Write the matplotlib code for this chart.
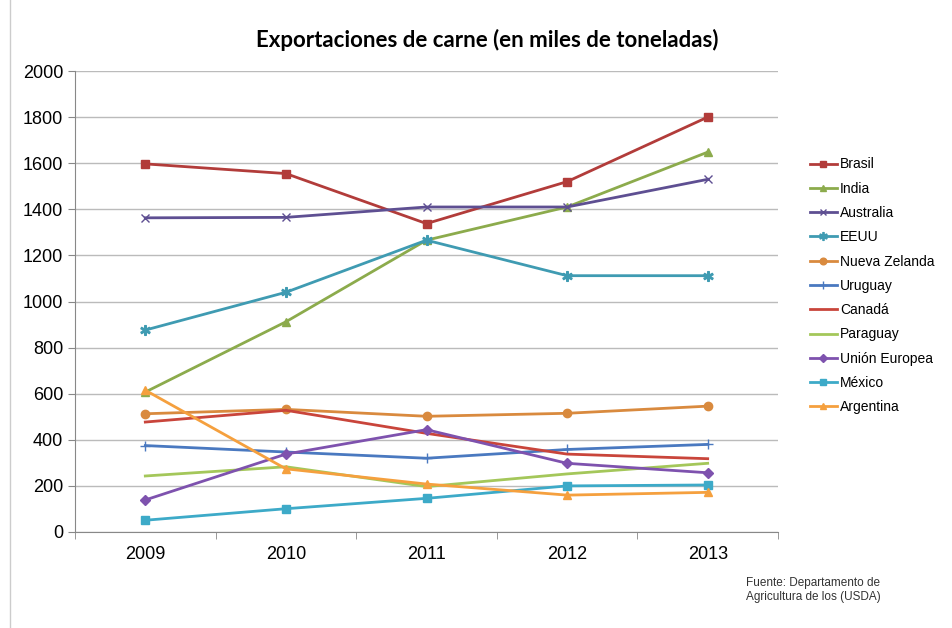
import matplotlib.pyplot as plt
from matplotlib.lines import Line2D

# data (miles de toneladas)
years = ['2009', '2010', '2011', '2012', '2013']

brasil = [1597, 1555, 1338, 1520, 1800]
india = [607, 912, 1266, 1410, 1648]
australia = [1363, 1365, 1410, 1410, 1530]
eeuu = [876, 1040, 1266, 1112, 1112]
nueva_zelanda = [513, 532, 502, 515, 546]
uruguay = [375, 347, 320, 358, 380]
canada = [477, 528, 428, 338, 318]
paraguay = [243, 283, 197, 252, 298]
union_europea = [139, 338, 444, 298, 257]
mexico = [51, 101, 146, 200, 204]
argentina = [615, 274, 208, 160, 172]

series = [
    ('Brasil', brasil, '#B23C3A', 's', 6),
    ('India', india, '#8CAB4C', '^', 6),
    ('Australia', australia, '#5E4F92', 'x', 6),
    ('EEUU', eeuu, '#3F9BB2', '$\u2732$', 7),
    ('Nueva Zelanda', nueva_zelanda, '#D98A3E', 'o', 6),
    ('Uruguay', uruguay, '#4A79C0', '+', 7),
    ('Canadá', canada, '#C9453B', None, 0),
    ('Paraguay', paraguay, '#A4C75A', None, 0),
    ('Unión Europea', union_europea, '#7E52AE', 'D', 5),
    ('México', mexico, '#3DAAC8', 's', 6),
    ('Argentina', argentina, '#F5A03E', '^', 6),
]

plt.rcParams['font.family'] = ['Liberation Sans', 'DejaVu Sans']

fig = plt.figure(figsize=(9.53, 6.28), dpi=100)
ax = fig.add_axes([75 / 953, 1 - 532 / 628, 703 / 953, 461 / 628])

x = list(range(len(years)))
for name, vals, col, mk, ms in series:
    ax.plot(x, vals, color=col, lw=2, marker=mk, markersize=ms,
            markeredgecolor=col, markerfacecolor=col, label=name)

ax.set_xlim(-0.5, 4.5)
ax.set_ylim(0, 2000)
ax.set_yticks(range(0, 2001, 200))
ax.set_xticks(x)
ax.set_xticklabels(years)
ax.set_xticks([-0.5, 0.5, 1.5, 2.5, 3.5, 4.5], minor=True)
ax.tick_params(axis='x', which='major', length=0, labelsize=13, pad=10)
ax.tick_params(axis='x', which='minor', length=5, color='#888888')
ax.tick_params(axis='y', length=5, color='#888888', labelsize=13)
ax.grid(axis='y', color='#BBBBBB', lw=1)
ax.set_axisbelow(True)
for s in ['top', 'right']:
    ax.spines[s].set_visible(False)
for s in ['left', 'bottom']:
    ax.spines[s].set_color('#888888')

fig.text(487 / 953, 1 - 40 / 628, 'Exportaciones de carne (en miles de toneladas)',
         ha='center', va='center', fontsize=16, fontweight='bold',
         family=['Lato', 'DejaVu Sans'])

handles, labels = ax.get_legend_handles_labels()
fig.legend(handles, labels, loc='upper left', bbox_to_anchor=(797 / 953, 1 - 145 / 628),
           frameon=False, fontsize=10, handlelength=2.0, handletextpad=0.2,
           labelspacing=0.74, markerscale=0.8)

fig.text(746 / 953, 1 - 590 / 628, 'Fuente: Departamento de\nAgricultura de los (USDA)',
         ha='left', va='center', fontsize=8.5, color='#333333', linespacing=1.2)

# faint border line at the left like the original frame
fig.add_artist(Line2D([10 / 953, 10 / 953], [0, 1], color='#CCCCCC', lw=1))

fig.savefig('out.png', dpi=100)
